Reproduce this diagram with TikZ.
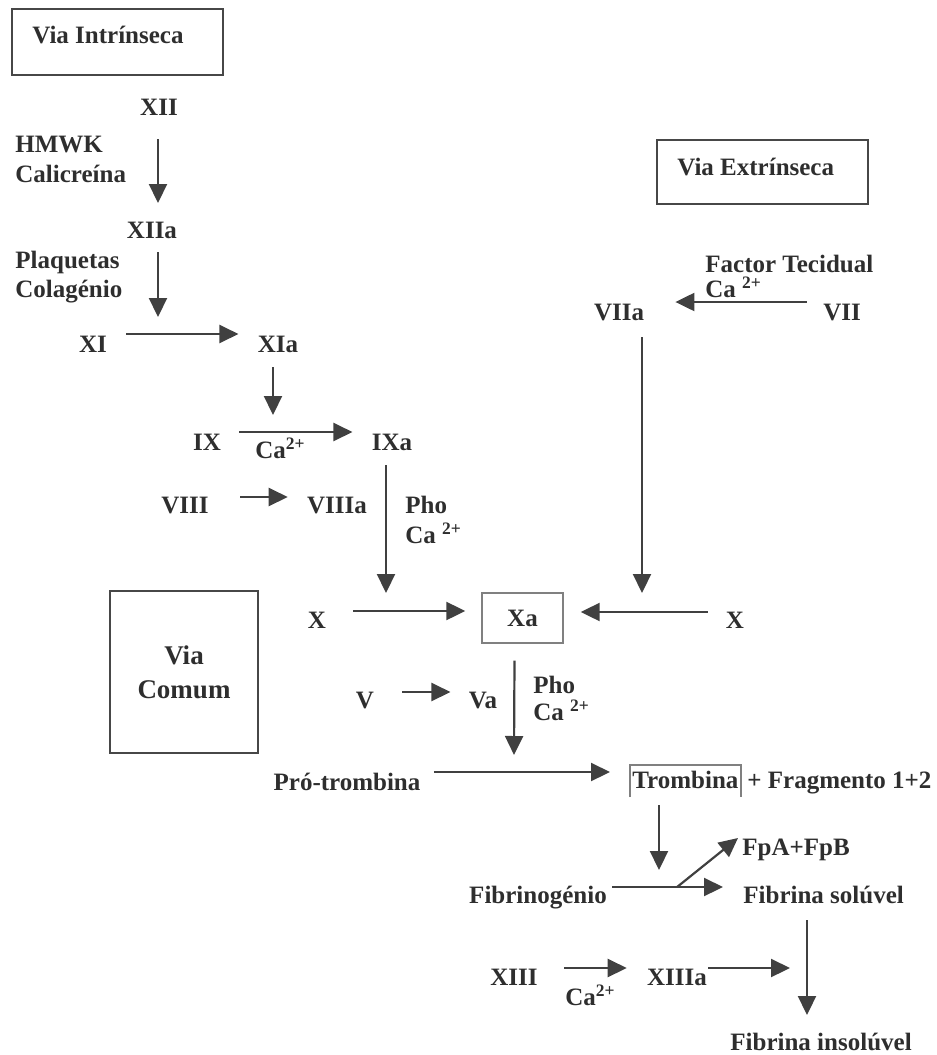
\documentclass[tikz,border=0pt]{standalone}
\usepackage{fontspec}
\setmainfont{Liberation Serif}
\usetikzlibrary{arrows.meta}
\tikzset{
  lbl/.style={inner sep=0pt, text=black!82, font=\fontsize{12.5}{15}\selectfont\bfseries},
  big/.style={inner sep=0pt, text=black!82, font=\fontsize{13.5}{17}\selectfont\bfseries},
  frame/.style={draw=black!72, line width=0.9pt, inner sep=0pt},
  thinframe/.style={draw=black!50, line width=0.7pt, inner sep=0pt},
  arr/.style={draw=black!75, line width=1.1pt, -{Triangle[length=9.5pt,width=9pt]}},
}
\begin{document}
\begin{tikzpicture}[x=0.5pt,y=-0.5pt]
\useasboundingbox (0,0) rectangle (937,1055);

% ---- boxes (headings)
\node[frame, minimum width=105.5pt, minimum height=33pt] (boxI) at (117.5,42) {};
\node[lbl, anchor=base west] (viaI) at (32,43) {Via Intrínseca};
\node[frame, minimum width=105.5pt, minimum height=32pt] (boxE) at (762.5,172) {};
\node[lbl, anchor=base west] (viaE) at (677,175) {Via Extrínseca};
\node[frame, big, minimum width=74pt, minimum height=81pt, align=center] (comum) at (184,672) {Via\\Comum};

% ---- intrinsic pathway
\node[lbl, anchor=base] (XII) at (159,115) {XII};
\node[lbl, anchor=base west] (hmwk) at (15,152) {HMWK};
\node[lbl, anchor=base west] (cali) at (15,182) {Calicreína};
\node[lbl, anchor=base] (XIIa) at (152,238) {XIIa};
\node[lbl, anchor=base west] (plaq) at (15,268) {Plaquetas};
\node[lbl, anchor=base west] (cola) at (15,297) {Colagénio};
\node[lbl, anchor=base] (XI) at (93,352) {XI};
\node[lbl, anchor=base] (XIa) at (278,352) {XIa};
\node[lbl, anchor=base] (IX) at (207,450) {IX};
\node[lbl, anchor=base] (IXa) at (392,450) {IXa};
\node[lbl, anchor=base west] (ca1) at (255,458) {Ca\textsuperscript{2+}};
\node[lbl, anchor=base] (VIII) at (185,513) {VIII};
\node[lbl, anchor=base] (VIIIa) at (337,513) {VIIIa};
\node[lbl, anchor=base west] (pho1) at (405,513) {Pho};
\node[lbl, anchor=base west] (ca2) at (405,543) {Ca \textsuperscript{2+}};

% ---- extrinsic pathway
\node[lbl, anchor=base west] (ft) at (705,272) {Factor Tecidual};
\node[lbl, anchor=base west] (ca3) at (705,297) {Ca \textsuperscript{2+}};
\node[lbl, anchor=base] (VIIa) at (619,320) {VIIa};
\node[lbl, anchor=base] (VII) at (842,320) {VII};

% ---- common pathway
\node[lbl, anchor=base] (Xl) at (317,628) {X};
\node[thinframe, lbl, minimum width=40.5pt, minimum height=25pt] (Xa) at (522.5,618) {Xa};
\node[lbl, anchor=base] (Xr) at (735,628) {X};
\node[lbl, anchor=base] (V) at (365,708) {V};
\node[lbl, anchor=base] (Va) at (483,708) {Va};
\node[lbl, anchor=base west] (pho2) at (533,693) {Pho};
\node[lbl, anchor=base west] (ca4) at (533,720) {Ca \textsuperscript{2+}};
\node[lbl, anchor=base] (pro) at (347,790) {Pró-trombina};
\node[lbl, anchor=base west] (T) at (632,788) {Trombina};
\node[lbl, anchor=base west] (frag) at (747,788) {+ Fragmento 1+2};
\draw[draw=black!50, line width=0.7pt] ([shift={(-2,9)}]T.base west) -- ([shift={(-2,-23)}]T.base west)
  -- ([shift={(2,-23)}]T.base east) -- ([shift={(2,9)}]T.base east);
\node[lbl, anchor=base] (fgen) at (538,903) {Fibrinogénio};
\node[lbl, anchor=base west] (fpa) at (742,855) {FpA+FpB};
\node[lbl, anchor=base west] (fsol) at (743,903) {Fibrina solúvel};
\node[lbl, anchor=base] (XIII) at (514,985) {XIII};
\node[lbl, anchor=base west] (ca5) at (565,1005) {Ca\textsuperscript{2+}};
\node[lbl, anchor=base] (XIIIa) at (677,985) {XIIIa};
\node[lbl, anchor=base west] (fins) at (730,1050) {Fibrina insolúvel};

% ---- free ends of the activating arrows
\coordinate (c1) at (158,317);
\coordinate (c2) at (273,415);
\coordinate (c3) at (386,593);
\coordinate (c4) at (642,593);
\coordinate (c5) at (514,755);
\coordinate (c6) at (659,870);
\coordinate (c7) at (790,968);

% ---- connectors
\draw[arr] ([shift={(-1,24)}]XII.base) -- ([shift={(6,-35)}]XIIa.base);
\draw[arr] ([shift={(6,14)}]XIIa.base) -- (c1);
\draw[arr] ([shift={(19,-18)}]XI.base east) -- ([shift={(-19,-18)}]XIa.base west);
\draw[arr] ([shift={(-5,15)}]XIa.base) -- (c2);
\draw[arr] ([shift={(18,-18)}]IX.base east) -- ([shift={(-19,-18)}]IXa.base west);
\draw[arr] ([shift={(31,-16)}]VIII.base east) -- ([shift={(-19,-16)}]VIIIa.base west);
\draw[arr] ([shift={(-6,15)}]IXa.base) -- (c3);
\draw[arr] ([shift={(27,-17)}]Xl.base east) -- ([shift={(-16,-7)}]Xa.west);
\draw[arr] ([shift={(-18,-16)}]Xr.base west) -- ([shift={(17,-6)}]Xa.east);
\draw[arr] ([shift={(-16,-18)}]VII.base west) -- ([shift={(31,-18)}]VIIa.base east);
\draw[arr] ([shift={(23,17)}]VIIa.base) -- (c4);
\draw[arr] ([shift={(-8,17)}]Xa.south) -- (c5);
\draw[arr] ([shift={(28,-16)}]V.base east) -- ([shift={(-18,-16)}]Va.base west);
\draw[arr] ([shift={(13,-18)}]pro.base east) -- ([shift={(-22,-16)}]T.base west);
\draw[arr] ([shift={(27,17)}]T.base west) -- (c6);
\draw[arr] ([shift={(5,-16)}]fgen.base east) -- coordinate[pos=0.586] (br) ([shift={(-20,-16)}]fsol.base west);
\draw[arr] (br) -- ([shift={(-4,-17)}]fpa.base west);
\draw[arr] ([shift={(64,17)}]fsol.base west) -- ([shift={(77,-35)}]fins.base west);
\draw[arr] ([shift={(26,-17)}]XIII.base east) -- ([shift={(-20,-17)}]XIIIa.base west);
\draw[arr] ([shift={(1,-17)}]XIIIa.base east) -- (c7);
\end{tikzpicture}
\end{document}
